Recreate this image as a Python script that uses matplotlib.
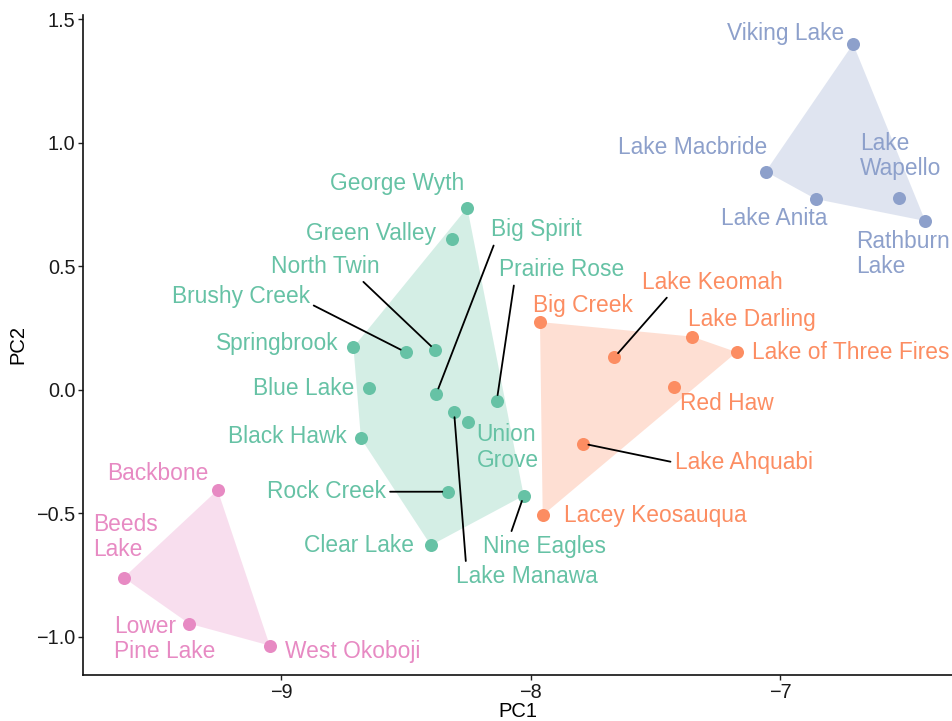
import matplotlib
matplotlib.use("Agg")
import matplotlib.pyplot as plt
import numpy as np

plt.rcParams['font.family'] = ['Liberation Sans', 'DejaVu Sans']

# ---------------- data ----------------
blue_names = ["Viking Lake", "Lake Macbride", "Lake Anita", "Lake\nWapello", "Rathburn\nLake"]
blue_pc1 = [-6.709, -7.059, -6.859, -6.525, -6.420]
blue_pc2 = [1.401, 0.884, 0.773, 0.777, 0.684]

orange_names = ["Big Creek", "Lake Keomah", "Lake Darling", "Lake of Three Fires",
                "Red Haw", "Lake Ahquabi", "Lacey Keosauqua"]
orange_pc1 = [-7.963, -7.665, -7.354, -7.175, -7.425, -7.791, -7.952]
orange_pc2 = [0.275, 0.132, 0.216, 0.153, 0.012, -0.217, -0.507]

green_names = ["George Wyth", "Green Valley", "North Twin", "Brushy Creek", "Springbrook",
               "Big Spirit", "Prairie Rose", "Blue Lake", "Black Hawk", "Union\nGrove",
               "Rock Creek", "Clear Lake", "Nine Eagles", "Lake Manawa"]
green_pc1 = [-8.254, -8.314, -8.383, -8.501, -8.710, -8.378, -8.136, -8.649, -8.680,
             -8.250, -8.332, -8.400, -8.028, -8.307]
green_pc2 = [0.738, 0.610, 0.162, 0.153, 0.173, -0.015, -0.043, 0.008, -0.196,
             -0.131, -0.412, -0.629, -0.428, -0.088]

pink_names = ["Backbone", "Beeds\nLake", "Lower\nPine Lake", "West Okoboji"]
pink_pc1 = [-9.254, -9.630, -9.368, -9.045]
pink_pc2 = [-0.405, -0.760, -0.946, -1.035]

x_ticks = [-9, -8, -7]
y_ticks = [-1.0, -0.5, 0.0, 0.5, 1.0, 1.5]

# ---------------- layout / style ----------------
colors = {"blue": "#8DA0CB", "orange": "#FC8D62", "green": "#66C2A5", "pink": "#E78AC3"}

# label offsets in pixels (dx right, dy down) from the point to the label centre
offsets = {
    "Viking Lake": (-67.5, -10), "Lake Macbride": (-72.7, -24), "Lake Anita": (-41.7, 19),
    "Lake\nWapello": (1.5, -42), "Rathburn\nLake": (-22, 33),
    "Big Creek": (42.5, -17), "Lake Keomah": (98, -75), "Lake Darling": (59.7, -16.7),
    "Lake of Three Fires": (114, 0), "Red Haw": (52.7, 16.3), "Lake Ahquabi": (160.7, 19),
    "Lacey Keosauqua": (112.8, 0.7),
    "George Wyth": (-69.8, -23.7), "Green Valley": (-81, -6), "North Twin": (-109.3, -83.3),
    "Brushy Creek": (-165, -55.6), "Springbrook": (-75.8, -3.3), "Big Spirit": (99.7, -163.7),
    "Prairie Rose": (65.3, -130.7), "Blue Lake": (-64.5, 1), "Black Hawk": (-73.5, -1.6),
    "Union\nGrove": (39.2, 25.2), "Rock Creek": (-121.4, 0), "Clear Lake": (-71.5, 0),
    "Nine Eagles": (20.8, 51), "Lake Manawa": (73, 165),
    "Backbone": (-60, -16), "Beeds\nLake": (1.8, -40.7), "Lower\nPine Lake": (-24.5, 15.3),
    "West Okoboji": (83.3, 6),
}
# labels with leader segments: relative attach point on the label box
segments = {
    "North Twin": (0.81, 0.0), "Brushy Creek": (1.0, 0.2), "Big Spirit": (0.05, 0.0),
    "Prairie Rose": (0.12, 0.0), "Lake Manawa": (0.07, 1.0), "Rock Creek": (1.0, 0.5),
    "Nine Eagles": (0.22, 1.0), "Lake Keomah": (0.2, 0.0), "Lake Ahquabi": (0.0, 0.5),
}


def convex_hull(xs, ys):
    pts = sorted(zip(xs, ys))
    def cross(o, a, b):
        return (a[0] - o[0]) * (b[1] - o[1]) - (a[1] - o[1]) * (b[0] - o[0])
    lower, upper = [], []
    for p in pts:
        while len(lower) >= 2 and cross(lower[-2], lower[-1], p) <= 0:
            lower.pop()
        lower.append(p)
    for p in reversed(pts):
        while len(upper) >= 2 and cross(upper[-2], upper[-1], p) <= 0:
            upper.pop()
        upper.append(p)
    hull = lower[:-1] + upper[:-1]
    return [h[0] for h in hull], [h[1] for h in hull]


W, H = 953, 721
fig = plt.figure(figsize=(W / 100, H / 100), dpi=100)
ax = fig.add_axes([83 / W, 1 - 675 / H, 870 / W, 660 / H])
ax.set_xlim(-9.793, -6.309)
ax.set_ylim(-1.154, 1.518)

groups = [
    ("blue", blue_names, blue_pc1, blue_pc2),
    ("orange", orange_names, orange_pc1, orange_pc2),
    ("green", green_names, green_pc1, green_pc2),
    ("pink", pink_names, pink_pc1, pink_pc2),
]

for key, names, xs, ys in groups:
    hx, hy = convex_hull(xs, ys)
    ax.fill(hx, hy, color=colors[key], alpha=0.28, linewidth=0, zorder=1)

for key, names, xs, ys in groups:
    ax.scatter(xs, ys, s=88, color=colors[key], linewidths=0, zorder=3)
    for n, x, y in zip(names, xs, ys):
        dx, dy = offsets[n]
        kw = {}
        if n in segments:
            kw["arrowprops"] = dict(arrowstyle="-", color="black", lw=1.3,
                                    shrinkA=1, shrinkB=4, relpos=segments[n])
        ax.annotate(n, xy=(x, y), xytext=(dx, -dy), textcoords="offset pixels",
                    ha="center", va="center", multialignment="left",
                    fontsize=16.4, color=colors[key], linespacing=1.15,
                    zorder=4, **kw)

for s in ["top", "right"]:
    ax.spines[s].set_visible(False)
for s in ["left", "bottom"]:
    ax.spines[s].set_linewidth(1.2)
    ax.spines[s].set_color("#111111")

ax.set_xticks(x_ticks)
ax.set_xticklabels([f"\u2212{abs(v):g}" for v in x_ticks])
ax.set_yticks(y_ticks)
ax.set_yticklabels([("\u2212" if v < 0 else "") + f"{abs(v):.1f}" for v in y_ticks])
ax.tick_params(axis="both", labelsize=14.3, length=3.5, width=1.0, colors="#222222",
               labelcolor="#1a1a1a", pad=2)
ax.set_xlabel("PC1", fontsize=14.5, color="black", labelpad=0)
ax.set_ylabel("PC2", fontsize=14.5, color="black", labelpad=6)

fig.savefig("out.png", dpi=100)
